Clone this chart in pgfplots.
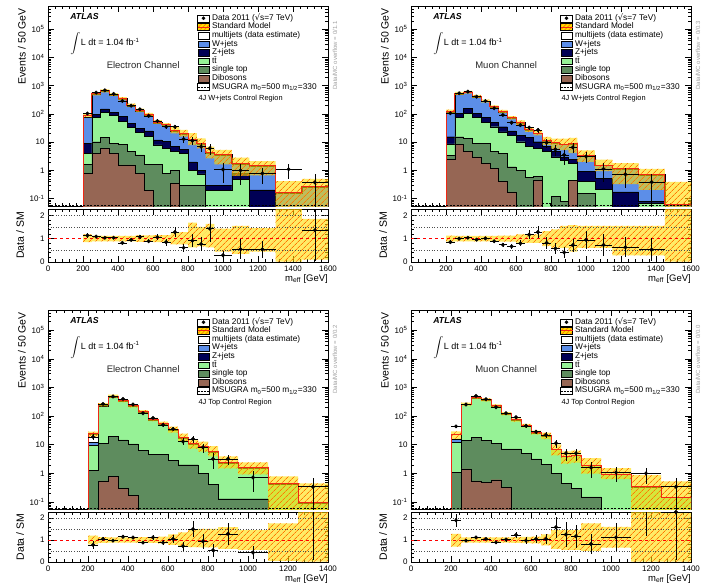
\documentclass[border=0pt]{standalone}
\usepackage{fontspec}
\setmainfont{Liberation Sans}
\newfontfamily\dejavu{DejaVu Sans}
\usepackage{pgfplots}
\pgfplotsset{compat=1.18}
\usepackage{pgfplotstable}
\usetikzlibrary{patterns,patterns.meta}

\definecolor{wjc}{RGB}{92,142,232}
\definecolor{zjc}{RGB}{0,0,85}
\definecolor{ttc}{RGB}{150,242,150}
\definecolor{stc}{RGB}{94,140,94}
\definecolor{dbc}{RGB}{150,102,84}
\definecolor{bandy}{RGB}{255,222,0}
\definecolor{bando}{RGB}{255,120,0}
\definecolor{smred}{RGB}{240,40,20}

% ================= Panel A: W+jets CR, electron =================
\pgfplotstableread{
x tot wj zj tt st db
200 0.001 0.001 0.001 0.001 0.001 0.001
200 90 78 9.1 4.0 1.6 0.78
250 520 485 97 76 10.3 4.0
300 660 615 149 114 14.4 6.0
350 490 455 114 90 9.1 4.0
400 350 325 80 55 8.4 1.54
450 205 190 46 33 4.6 1.54
500 135 125 31 22 3.5 0.78
550 95 88 25 16 1.6 0.19
600 52 48 12 8.0 1.6 0.01
650 41 38 10.4 6.0 0.8 0.01
700 27 25 6.9 4.6 1.0 0.35
750 21 19.5 5.5 4.0 0.3 0.01
800 12.4 11.5 2.0 1.0 0.3 0.01
850 9.0 8.3 1.0 0.75 0.3 0.01
900 4.2 3.9 0.3 0.19 0.01 0.01
950 3.7 3.4 0.3 0.19 0.01 0.01
1050 1.8 1.65 0.78 0.48 0.01 0.01
1150 1.45 1.35 0.2 0.01 0.01 0.01
1300 0.17 0.16 0.01 0.01 0.01 0.01
1450 0.27 0.25 0.01 0.01 0.01 0.01
1600 0.27 0.25 0.01 0.01 0.01 0.01
1600 0.001 0.001 0.001 0.001 0.001 0.001
}\hA
% band: upper block (f = relative upper edge), jump, lower block (f = relative lower edge)
\pgfplotstableread{
x tot f
200 0.001 1
200 90 1.18
250 520 1.13
300 660 1.12
350 490 1.12
400 350 1.12
450 205 1.12
500 135 1.14
550 95 1.14
600 52 1.15
650 41 1.15
700 27 1.25
750 21 1.28
800 12.4 1.69
850 9.0 1.5
900 4.2 1.63
950 3.7 1.43
1050 1.8 1.55
1150 1.45 1.45
1300 0.17 2.4
1450 0.27 1.85
1600 0.27 1.85
1600 0.001 1
nan 1 1
200 0.001 1
200 90 0.85
250 520 0.88
300 660 0.88
350 490 0.88
400 350 0.88
450 205 0.88
500 135 0.86
550 95 0.86
600 52 0.85
650 41 0.85
700 27 0.75
750 21 0.75
800 12.4 0.63
850 9.0 0.67
900 4.2 0.63
950 3.7 0.44
1050 1.8 0.35
1150 1.45 0.45
1300 0.17 0.02
1450 0.27 0.1
1600 0.27 0.1
1600 0.001 1
}\bA
\pgfplotstableread{
x y ex ey r er
225 103 25 10 1.14 0.11
275 567 25 24 1.09 0.046
325 686 25 26 1.04 0.039
375 510 25 23 1.04 0.047
425 287 25 17 0.82 0.049
475 195 25 14 0.95 0.068
525 146 25 12 1.08 0.089
575 85 25 9.2 0.89 0.097
625 56 25 7.5 1.07 0.144
675 35 25 5.9 0.85 0.144
725 35 25 5.9 1.28 0.22
775 12.8 25 3.6 0.61 0.17
825 11.3 25 3.4 0.91 0.27
875 6.9 25 2.6 0.77 0.29
925 6.0 25 2.4 1.43 0.57
1000 1.07 50 0.73 0.29 0.20
1100 0.99 50 0.70 0.55 0.42
1225 0.78 75 0.45 0.54 0.35
1375 1.09 75 0.6 6.4 3.5
1525 0.37 75 0.35 1.36 1.3
}\dA

% ================= Panel B: W+jets CR, muon =================
\pgfplotstableread{
x tot wj zj tt st db
200 0.001 0.001 0.001 0.001 0.001 0.001
200 124 112 15.5 8.6 3.3 2.5
250 540 520 105 76 15.5 8.4
300 590 567 158 105 13.6 4.6
350 424 407 105 76 9.1 3.0
400 284 273 76 49 9.1 1.77
450 178 171 49 35 4.6 1.17
500 123 118 35 23 4.0 0.40
550 73 70 25 17.8 1.34 0.17
600 50 48 17.8 10.3 1.0 0.01
650 28 27 14.8 6.9 0.55 0.01
700 21 20 10.3 6.0 0.6 0.45
750 11.6 11.1 6.9 4.6 0.03 0.01
800 9.5 9.1 4.6 3.0 0.12 0.01
850 8.6 8.3 3.0 2.3 0.08 0.01
900 9.0 8.6 2.45 1.77 0.45 0.45
950 3.3 3.15 0.9 0.4 0.15 0.01
1050 1.54 1.47 0.52 0.21 0.01 0.01
1150 1.15 1.1 0.17 0.04 0.01 0.01
1300 0.72 0.69 0.08 0.07 0.01 0.01
1450 0.06 0.058 0.01 0.01 0.01 0.01
1600 0.06 0.058 0.01 0.01 0.01 0.01
1600 0.001 0.001 0.001 0.001 0.001 0.001
}\hB
\pgfplotstableread{
x tot f
200 0.001 1
200 124 1.13
250 540 1.12
300 590 1.12
350 424 1.12
400 284 1.12
450 178 1.12
500 123 1.13
550 73 1.13
600 50 1.18
650 28 1.18
700 21 1.18
750 11.6 1.32
800 9.5 1.4
850 8.6 1.55
900 9.0 1.58
950 3.3 1.55
1050 1.54 1.55
1150 1.15 1.55
1300 0.72 1.55
1450 0.06 6.5
1600 0.06 6.5
1600 0.001 1
nan 1 1
200 0.001 1
200 124 0.87
250 540 0.88
300 590 0.88
350 424 0.88
400 284 0.88
450 178 0.88
500 123 0.87
550 73 0.87
600 50 0.82
650 28 0.82
700 21 0.82
750 11.6 0.68
800 9.5 0.62
850 8.6 0.6
900 9.0 0.45
950 3.3 0.6
1050 1.54 0.6
1150 1.15 0.28
1300 0.72 0.28
1450 0.06 0.02
1600 0.06 0.02
1600 0.001 1
}\bB
\pgfplotstableread{
x y ex ey r er
225 105 25 10.2 0.85 0.082
275 540 25 23 1.0 0.043
325 614 25 25 1.04 0.042
375 407 25 20 0.96 0.047
425 287 25 17 1.01 0.06
475 158 25 12.6 0.89 0.071
525 91 25 9.5 0.74 0.077
575 49 25 7.0 0.67 0.096
625 40 25 6.3 0.80 0.126
675 32.8 25 5.7 1.17 0.2
725 26.9 25 5.2 1.28 0.25
775 9.5 25 3.1 0.82 0.27
825 5.5 25 2.3 0.58 0.24
875 3.5 25 1.9 0.41 0.22
925 6.5 25 2.5 0.72 0.28
1000 3.1 50 1.25 0.95 0.38
1100 1.12 50 0.75 0.73 0.49
1225 0.72 75 0.49 0.63 0.43
1375 0.38 75 0.36 0.53 0.5
}\dB

% ================= Panel C: Top CR, electron =================
\pgfplotstableread{
x tot wj zj tt st db
200 0.001 0.001 0.001 0.001 0.001 0.001
200 24 12 9.6 9.3 1.24 0.01
250 252 245 222 215 11.2 0.55
300 495 485 475 465 19.7 0.8
350 346 339 332 325 14.7 0.3
400 227 222 218 213 10.6 0.17
450 142 139 136 133 6.5 0.01
500 77 75.5 74 72.5 4.5 0.01
550 56 55 54 52.5 4.5 0.01
600 34 33.3 32.6 32 2.9 0.01
650 18 17.6 17.3 17 2.0 0.01
700 10.7 10.5 10.3 10.1 2.0 0.01
750 8.6 8.4 8.3 8.1 1.0 0.01
800 5.9 5.8 5.7 5.6 0.42 0.01
850 2.5 2.45 2.4 2.35 0.13 0.01
950 1.67 1.64 1.6 1.57 0.13 0.01
1100 0.45 0.44 0.43 0.42 0.01 0.01
1250 0.1 0.098 0.096 0.094 0.01 0.01
1400 0.1 0.098 0.096 0.094 0.01 0.01
1400 0.001 0.001 0.001 0.001 0.001 0.001
}\hC
\pgfplotstableread{
x tot f
200 0.001 1
200 24 1.2
250 252 1.13
300 495 1.12
350 346 1.12
400 227 1.12
450 142 1.13
500 77 1.13
550 56 1.15
600 34 1.25
650 18 1.35
700 10.7 1.45
750 8.6 1.5
800 5.9 1.5
850 2.5 1.58
950 1.67 1.45
1100 0.45 1.75
1250 0.1 4.5
1400 0.1 4.5
1400 0.001 1
nan 1 1
200 0.001 1
200 24 0.8
250 252 0.87
300 495 0.88
350 346 0.88
400 227 0.88
450 142 0.87
500 77 0.87
550 56 0.85
600 34 0.78
650 18 0.7
700 10.7 0.68
750 8.6 0.66
800 5.9 0.66
850 2.5 0.6
950 1.67 0.55
1100 0.45 0.05
1250 0.1 0.02
1400 0.1 0.02
1400 0.001 1
}\bC
\pgfplotstableread{
x y ex ey r er
225 18.7 25 4.3 0.78 0.18
275 265 25 16.3 1.05 0.065
325 480 25 21.9 0.97 0.044
375 398 25 20 1.15 0.058
425 252 25 15.9 1.11 0.07
475 125 25 11.2 0.88 0.079
525 86 25 9.3 1.12 0.12
575 49 25 7.0 0.88 0.125
625 35.7 25 6.0 1.05 0.176
675 13.0 25 3.6 0.72 0.2
725 15.9 25 4.0 1.49 0.37
775 8.1 25 2.85 0.94 0.33
825 3.2 25 1.8 0.54 0.3
900 3.2 50 1.26 1.28 0.5
1025 0.72 75 0.49 0.43 0.29
1325 0.34 75 0.33 3.4 3.3
}\dC

% ================= Panel D: Top CR, muon =================
\pgfplotstableread{
x tot wj zj tt st db
200 0.001 0.001 0.001 0.001 0.001 0.001
200 23 16 12.3 12 1.1 0.01
250 260 256 254 250 13.9 1.42
300 450 444 441 436 18 0.55
350 369 364 362 358 13.9 0.48
400 228 225 223 220 11.2 0.6
450 123 121 120 119 7.1 0.32
500 74 73 72.5 71.5 7.1 0.01
550 47 46.4 46 45.5 5.0 0.01
600 27 26.7 26.5 26.2 3.2 0.01
650 21 20.7 20.5 20.3 2.1 0.01
700 7.1 7.0 6.95 6.9 1.0 0.01
750 4.0 3.95 3.92 3.9 0.45 0.01
800 4.3 4.25 4.22 4.2 0.3 0.01
850 1.95 1.93 1.92 1.9 0.15 0.01
950 0.96 0.95 0.94 0.93 0.01 0.01
1100 0.35 0.345 0.34 0.335 0.01 0.01
1250 0.15 0.148 0.147 0.145 0.01 0.01
1400 0.15 0.148 0.147 0.145 0.01 0.01
1400 0.001 0.001 0.001 0.001 0.001 0.001
}\hD
\pgfplotstableread{
x tot f
200 0.001 1
200 23 1.28
250 260 1.12
300 450 1.12
350 369 1.12
400 228 1.12
450 123 1.12
500 74 1.13
550 47 1.14
600 27 1.15
650 21 1.25
700 7.1 1.45
750 4.0 1.45
800 4.3 1.45
850 1.95 1.75
950 0.96 1.6
1100 0.35 2.5
1250 0.15 3.5
1400 0.15 3.5
1400 0.001 1
nan 1 1
200 0.001 1
200 23 0.7
250 260 0.88
300 450 0.88
350 369 0.88
400 228 0.88
450 123 0.88
500 74 0.87
550 47 0.86
600 27 0.85
650 21 0.75
700 7.1 0.6
750 4.0 0.55
800 4.3 0.55
850 1.95 0.5
950 0.96 0.65
1100 0.35 0.02
1250 0.15 0.02
1400 0.15 0.02
1400 0.001 1
}\bD
\pgfplotstableread{
x y ex ey r er
225 43.5 25 6.6 1.89 0.29
275 252 25 15.9 0.97 0.061
325 504 25 22.4 1.12 0.05
375 387 25 19.7 1.05 0.053
425 203 25 14.2 0.89 0.062
475 125 25 11.2 1.02 0.091
525 91 25 9.5 1.23 0.128
575 45.6 25 6.75 0.97 0.144
625 28.4 25 5.3 1.05 0.196
675 22 25 4.7 1.05 0.224
725 11.2 25 3.35 1.58 0.47
775 5.0 25 2.24 1.25 0.56
825 5.0 25 2.24 1.17 0.52
900 1.6 50 0.89 0.82 0.46
1025 1.08 75 0.6 1.12 0.63
1175 1.0 75 0.58 2.86 1.66
1325 0.34 75 0.33 2.27 2.2
}\dD

\pgfplotsset{
  atl/.style={scale only axis, width=280pt, xmin=0, tick align=inside,
    xtick pos=both, ytick pos=both, xticklabel pos=left, yticklabel pos=left,
    major tick length=6pt, minor tick length=3pt,
    tick style={black, line width=0.4pt}, axis line style={black, line width=0.5pt},
    tick label style={font=\fontsize{8}{9}\selectfont}},
  mainax/.style={atl, xticklabels={},
    ytick={0.1,1,10,100,1000,10000,100000},
    yticklabels={10\textsuperscript{-1},1,10,10\textsuperscript{2},10\textsuperscript{3},10\textsuperscript{4},10\textsuperscript{5}},
    minor ytick={0.06,0.07,0.08,0.09,0.2,0.3,0.4,0.5,0.6,0.7,0.8,0.9,2,3,4,5,6,7,8,9,20,30,40,50,60,70,80,90,200,300,400,500,600,700,800,900,2000,3000,4000,5000,6000,7000,8000,9000,20000,30000,40000,50000,60000,70000,80000,90000,200000,300000,400000,500000},
    ylabel={Events / 50 GeV},
    ylabel style={font=\fontsize{10.5}{11}\selectfont, at={(axis description cs:-0.093,0.99)}, anchor=east, inner sep=0pt},
    legend style={at={(0.532,0.96)}, anchor=north west, draw=none, fill=none, inner sep=0pt, outer sep=0pt,
      row sep=0pt, column sep=2pt, font=\fontsize{8.3}{8.6}\selectfont,
      nodes={inner sep=0pt, text height=6.2pt, text depth=2.4pt}},
    legend cell align=left},
  ratioax/.style={atl, ymin=0, ymax=2.27, ytick={0,1,2}, yticklabels={0,1,2}, minor y tick num=4,
    ylabel={Data / SM},
    ylabel style={font=\fontsize{10.5}{11}\selectfont, at={(axis description cs:-0.1,0.5)}, anchor=center, inner sep=0pt},
    xlabel={m\textsubscript{eff} [GeV]},
    xlabel style={font=\fontsize{9.5}{10}\selectfont, at={(axis description cs:1,0)}, anchor=north east, yshift=-12pt, inner sep=0pt}},
  hstep/.style={const plot mark left, draw=black, line width=0.35pt, forget plot},
  bandfill/.style={const plot mark left, unbounded coords=jump, even odd rule, fill=bandy, fill opacity=0.6, draw=none, forget plot},
  bandhatch/.style={const plot mark left, unbounded coords=jump, even odd rule, pattern={Lines[angle=45,distance=4pt,line width=0.7pt]}, pattern color=bando, draw=none, forget plot},
  datapt/.style={only marks, mark=*, mark size=1.8pt, black, forget plot,
    error bars/.cd, x dir=both, x explicit, y dir=both, y explicit,
    error bar style={line width=0.6pt, black}, error mark=none},
  msugra/.style={const plot mark left, black, line width=1.1pt, dash pattern=on 2pt off 1.5pt, forget plot},
}

\newcommand{\mainplots}[3]{%
  \addplot[hstep, fill=white] table[x=x,y=tot]{#1};
  \addplot[hstep, fill=wjc] table[x=x,y=wj]{#1};
  \addplot[hstep, fill=zjc] table[x=x,y=zj]{#1};
  \addplot[hstep, fill=ttc] table[x=x,y=tt]{#1};
  \addplot[hstep, fill=stc] table[x=x,y=st]{#1};
  \addplot[hstep, fill=dbc] table[x=x,y=db]{#1};
  \addplot[bandfill] table[x=x, y expr=\thisrow{tot}*\thisrow{f}]{#2};
  \addplot[bandhatch] table[x=x, y expr=\thisrow{tot}*\thisrow{f}]{#2};
  \addplot[const plot mark left, draw=smred, line width=0.7pt, forget plot] table[x=x,y=tot]{#1};
  \addplot[datapt] table[x=x, y=y, x error=ex, y error=ey]{#3};
}

\newcommand{\ratioplots}[3]{%
  \addplot[bandfill] table[x=x,y=f]{#1};
  \addplot[bandhatch] table[x=x,y=f]{#1};
  \addplot[gray!60!black, dotted, line width=0.6pt, forget plot] coordinates {(0,0.5) (#3,0.5)};
  \addplot[gray!60!black, dotted, line width=0.6pt, forget plot] coordinates {(0,1.5) (#3,1.5)};
  \addplot[gray!60!black, dotted, line width=0.6pt, forget plot] coordinates {(0,2) (#3,2)};
  \addplot[red, dashed, line width=0.6pt, forget plot] coordinates {(0,1) (#3,1)};
  \addplot[datapt] table[x=x, y=r, x error=ex, y error=er]{#2};
}

\newcommand{\legendall}{%
  \addlegendimage{legend image code/.code={\path (0pt,-3.5pt) rectangle (12pt,3.5pt);\fill[black] (6pt,0pt) circle (1.6pt);}}
  \addlegendentry{Data 2011 ({\dejavu √}s=7 TeV)}
  \addlegendimage{legend image code/.code={\fill[bandy] (0pt,-3.5pt) rectangle (12pt,3.5pt);\fill[pattern={Lines[angle=45,distance=3pt,line width=0.7pt]},pattern color=bando] (0pt,-3.5pt) rectangle (12pt,3.5pt);\draw[smred,line width=0.8pt] (0pt,0pt)--(12pt,0pt);}}
  \addlegendentry{Standard Model}
  \addlegendimage{legend image code/.code={\draw[black,fill=white,line width=0.4pt] (0.3pt,-3.3pt) rectangle (11.7pt,3.3pt);}}
  \addlegendentry{multijets (data estimate)}
  \addlegendimage{legend image code/.code={\draw[black,fill=wjc,line width=0.4pt] (0.3pt,-3.3pt) rectangle (11.7pt,3.3pt);}}
  \addlegendentry{W+jets}
  \addlegendimage{legend image code/.code={\draw[black,fill=zjc,line width=0.4pt] (0.3pt,-3.3pt) rectangle (11.7pt,3.3pt);}}
  \addlegendentry{Z+jets}
  \addlegendimage{legend image code/.code={\draw[black,fill=ttc,line width=0.4pt] (0.3pt,-3.3pt) rectangle (11.7pt,3.3pt);}}
  \addlegendentry{t\={t}}
  \addlegendimage{legend image code/.code={\draw[black,fill=stc,line width=0.4pt] (0.3pt,-3.3pt) rectangle (11.7pt,3.3pt);}}
  \addlegendentry{single top}
  \addlegendimage{legend image code/.code={\draw[black,fill=dbc,line width=0.4pt] (0.3pt,-3.3pt) rectangle (11.7pt,3.3pt);}}
  \addlegendentry{Dibosons}
  \addlegendimage{legend image code/.code={\path (0pt,-3.5pt) rectangle (12pt,3.5pt);\draw[black,line width=1.1pt,dash pattern=on 2pt off 1.2pt] (0pt,0pt)--(12pt,0pt);}}
  \addlegendentry{MSUGRA m\textsubscript{0}=500 m\textsubscript{1/2}=330}
}

\newcommand{\paneltexts}[3]{%
  \node[anchor=west, inner sep=0pt, font=\bfseries\itshape\fontsize{8.7}{9}\selectfont] at (0.079,0.945) {ATLAS};
  \node[anchor=west, font=\fontsize{9}{10}\selectfont, inner sep=0pt] at (0.079,0.812) {$\displaystyle\int$\kern0.5pt L dt = 1.04 fb\textsuperscript{-1}};
  \node[anchor=center, font=\fontsize{9.5}{10}\selectfont, text=black!85] at (0.34,0.705) {#1};
  \node[anchor=west, font=\fontsize{7.4}{8}\selectfont] at (0.525,0.535) {#2};
  \node[anchor=east, rotate=90, font=\fontsize{6}{7}\selectfont, text=gray!75] at (1.025,0.94) {Data/MC overflow = #3};
}

\begin{document}
\begin{tikzpicture}
\useasboundingbox (0pt,0pt) rectangle (706pt,-582pt);

% ===== Panel A =====
\begin{axis}[mainax, ymode=log, at={(48pt,-6pt)}, anchor=north west, height=200pt,
  xmax=1600, xtick={0,200,...,1600}, minor x tick num=4, ymin=0.054, ymax=6.7e5,
  extra description/.code={\paneltexts{Electron Channel}{4J W+jets Control Region}{0/1.1}}]
\mainplots{\hA}{\bA}{\dA}
\addplot[msugra] coordinates {(0,0.0555) (1600,0.0555)};
\legendall
\end{axis}
\begin{axis}[ratioax, at={(48pt,-209pt)}, anchor=north west, height=53pt,
  xmax=1600, xtick={0,200,...,1600}, xticklabels={0,200,400,600,800,1000,1200,1400,1600}, minor x tick num=4]
\ratioplots{\bA}{\dA}{1600}
\end{axis}

% ===== Panel B =====
\begin{axis}[mainax, ymode=log, at={(411pt,-6pt)}, anchor=north west, height=200pt,
  xmax=1600, xtick={0,200,...,1600}, minor x tick num=4, ymin=0.054, ymax=6.7e5,
  extra description/.code={\paneltexts{Muon Channel}{4J W+jets Control Region}{0/0.3}}]
\mainplots{\hB}{\bB}{\dB}
\addplot[msugra] coordinates {(0,0.0555) (700,0.0555) (750,0.065) (800,0.0555) (1600,0.0555)};
\legendall
\end{axis}
\begin{axis}[ratioax, at={(411pt,-209pt)}, anchor=north west, height=53pt,
  xmax=1600, xtick={0,200,...,1600}, xticklabels={0,200,400,600,800,1000,1200,1400,1600}, minor x tick num=4]
\ratioplots{\bB}{\dB}{1600}
\end{axis}

% ===== Panel C =====
\begin{axis}[mainax, ymode=log, at={(48pt,-310pt)}, anchor=north west, height=199pt,
  xmax=1400, xtick={0,200,...,1400}, minor x tick num=4, ymin=0.057, ymax=5e5,
  extra description/.code={\paneltexts{Electron Channel}{4J Top Control Region}{0/0.2}}]
\mainplots{\hC}{\bC}{\dC}
\addplot[msugra] coordinates {(0,0.0585) (1400,0.0585)};
\legendall
\end{axis}
\begin{axis}[ratioax, at={(48pt,-512pt)}, anchor=north west, height=50pt,
  xmax=1400, xtick={0,200,...,1400}, xticklabels={0,200,400,600,800,1000,1200,1400}, minor x tick num=4]
\ratioplots{\bC}{\dC}{1400}
\end{axis}

% ===== Panel D =====
\begin{axis}[mainax, ymode=log, at={(411pt,-310pt)}, anchor=north west, height=199pt,
  xmax=1400, xtick={0,200,...,1400}, minor x tick num=4, ymin=0.057, ymax=5e5,
  extra description/.code={\paneltexts{Muon Channel}{4J Top Control Region}{0/0.0}}]
\mainplots{\hD}{\bD}{\dD}
\addplot[msugra] coordinates {(0,0.0585) (1400,0.0585)};
\legendall
\end{axis}
\begin{axis}[ratioax, at={(411pt,-512pt)}, anchor=north west, height=50pt,
  xmax=1400, xtick={0,200,...,1400}, xticklabels={0,200,400,600,800,1000,1200,1400}, minor x tick num=4]
\ratioplots{\bD}{\dD}{1400}
\end{axis}
\end{tikzpicture}
\end{document}
